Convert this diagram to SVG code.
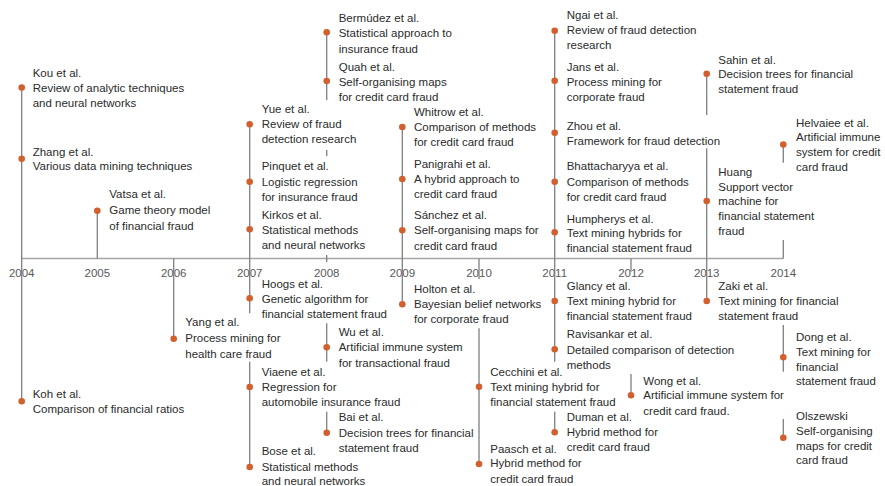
<svg xmlns="http://www.w3.org/2000/svg" width="885" height="486" viewBox="0 0 885 486">
<style>
.t{font-family:"Liberation Sans",Arial,sans-serif;font-size:11.5px;fill:#2b2b2b}
.yr{font-family:"Liberation Sans",Arial,sans-serif;font-size:11.5px;fill:#595959;text-anchor:middle}
.s{stroke:#7f7f7f;stroke-width:1.3;fill:none}
.ax{stroke:#a6a6a6;stroke-width:1.3;fill:none}
.d{fill:#d25f2e}
</style>
<rect width="885" height="486" fill="#ffffff"/>
<g id="axis">
<line class="ax" x1="21.7" y1="258.5" x2="783.3" y2="258.5"/>
<text class="yr" x="21.7" y="277">2004</text>
<text class="yr" x="97.3" y="277">2005</text>
<text class="yr" x="173.7" y="277">2006</text>
<text class="yr" x="249.7" y="277">2007</text>
<text class="yr" x="326.7" y="277">2008</text>
<text class="yr" x="402.3" y="277">2009</text>
<text class="yr" x="479" y="277">2010</text>
<text class="yr" x="554.7" y="277">2011</text>
<text class="yr" x="631" y="277">2012</text>
<text class="yr" x="706.7" y="277">2013</text>
<text class="yr" x="783.3" y="277">2014</text>
</g>
<g id="connectors">
<line class="s" x1="21.7" y1="87.5" x2="21.7" y2="401.3"/>
<line class="s" x1="97.3" y1="210.7" x2="97.3" y2="258.5"/>
<line class="s" x1="173.7" y1="258.5" x2="173.7" y2="338.7"/>
<line class="s" x1="249.7" y1="124.3" x2="249.7" y2="313.3"/>
<line class="s" x1="249.7" y1="361.7" x2="249.7" y2="467"/>
<line class="s" x1="326.7" y1="32.3" x2="326.7" y2="100"/>
<line class="s" x1="326.7" y1="150" x2="326.7" y2="156"/>
<line class="s" x1="326.7" y1="255" x2="326.7" y2="262"/>
<line class="s" x1="326.7" y1="323.3" x2="326.7" y2="361.7"/>
<line class="s" x1="326.7" y1="411.7" x2="326.7" y2="432.7"/>
<line class="s" x1="402.3" y1="127" x2="402.3" y2="304.3"/>
<line class="s" x1="479" y1="258.5" x2="479" y2="279"/>
<line class="s" x1="479" y1="328.3" x2="479" y2="464"/>
<line class="s" x1="554.7" y1="30.7" x2="554.7" y2="361.7"/>
<line class="s" x1="554.7" y1="411.7" x2="554.7" y2="432.3"/>
<line class="s" x1="631" y1="258.5" x2="631" y2="271.7"/>
<line class="s" x1="631" y1="374" x2="631" y2="395.3"/>
<line class="s" x1="706.7" y1="73.7" x2="706.7" y2="115"/>
<line class="s" x1="706.7" y1="148.3" x2="706.7" y2="301"/>
<line class="s" x1="783.3" y1="144.5" x2="783.3" y2="162.7"/>
<line class="s" x1="783.3" y1="240" x2="783.3" y2="258.5"/>
<line class="s" x1="783.3" y1="325" x2="783.3" y2="371.7"/>
<line class="s" x1="783.3" y1="419" x2="783.3" y2="437.7"/>
</g>
<g id="kou"><circle class="d" cx="21.7" cy="87.5" r="3.3"/><text class="t"><tspan x="32.7" y="76.5">Kou et al.</tspan><tspan x="32.7" y="92">Review of analytic techniques</tspan><tspan x="32.7" y="107">and neural networks</tspan></text></g>
<g id="zhang"><circle class="d" cx="21.7" cy="158.7" r="3.3"/><text class="t"><tspan x="32.7" y="155.7">Zhang et al.</tspan><tspan x="32.7" y="170.3">Various data mining techniques</tspan></text></g>
<g id="vatsa"><circle class="d" cx="97.3" cy="210.7" r="3.3"/><text class="t"><tspan x="109.3" y="198.3">Vatsa et al.</tspan><tspan x="109.3" y="214.3">Game theory model</tspan><tspan x="109.3" y="229.7">of financial fraud</tspan></text></g>
<g id="koh"><circle class="d" cx="21.7" cy="401.3" r="3.3"/><text class="t"><tspan x="32.7" y="398">Koh et al.</tspan><tspan x="32.7" y="413.3">Comparison of financial ratios</tspan></text></g>
<g id="yang"><circle class="d" cx="173.7" cy="338.7" r="3.3"/><text class="t"><tspan x="185.3" y="326.3">Yang et al.</tspan><tspan x="185.3" y="342.3">Process mining for</tspan><tspan x="185.3" y="357.7">health care fraud</tspan></text></g>
<g id="yue"><circle class="d" cx="249.7" cy="124.3" r="3.3"/><text class="t"><tspan x="261.7" y="113">Yue et al.</tspan><tspan x="261.7" y="128.3">Review of fraud</tspan><tspan x="261.7" y="143.3">detection research</tspan></text></g>
<g id="pinquet"><circle class="d" cx="249.7" cy="181.7" r="3.3"/><text class="t"><tspan x="261.7" y="170">Pinquet et al.</tspan><tspan x="261.7" y="185.7">Logistic regression</tspan><tspan x="261.7" y="200.7">for insurance fraud</tspan></text></g>
<g id="kirkos"><circle class="d" cx="249.7" cy="229.3" r="3.3"/><text class="t"><tspan x="261.7" y="219">Kirkos et al.</tspan><tspan x="261.7" y="234">Statistical methods</tspan><tspan x="261.7" y="249">and neural networks</tspan></text></g>
<g id="hoogs"><circle class="d" cx="249.7" cy="298.3" r="3.3"/><text class="t"><tspan x="261.7" y="287.7">Hoogs et al.</tspan><tspan x="261.7" y="303">Genetic algorithm for</tspan><tspan x="261.7" y="317.7">financial statement fraud</tspan></text></g>
<g id="viaene"><circle class="d" cx="249.7" cy="387" r="3.3"/><text class="t"><tspan x="261.7" y="376.3">Viaene et al.</tspan><tspan x="261.7" y="391">Regression for</tspan><tspan x="261.7" y="406.3">automobile insurance fraud</tspan></text></g>
<g id="bose"><circle class="d" cx="249.7" cy="467" r="3.3"/><text class="t"><tspan x="261.7" y="455.3">Bose et al.</tspan><tspan x="261.7" y="470.7">Statistical methods</tspan><tspan x="261.7" y="485">and neural networks</tspan></text></g>
<g id="bermudez"><circle class="d" cx="326.7" cy="32.3" r="3.3"/><text class="t"><tspan x="338.7" y="22">Bermúdez et al.</tspan><tspan x="338.7" y="37.3">Statistical approach to</tspan><tspan x="338.7" y="52.7">insurance fraud</tspan></text></g>
<g id="quah"><circle class="d" cx="326.7" cy="81" r="3.3"/><text class="t"><tspan x="338.7" y="71.3">Quah et al.</tspan><tspan x="338.7" y="85.7">Self-organising maps</tspan><tspan x="338.7" y="101">for credit card fraud</tspan></text></g>
<g id="wu"><circle class="d" cx="326.7" cy="347.3" r="3.3"/><text class="t"><tspan x="338.7" y="335.7">Wu et al.</tspan><tspan x="338.7" y="351.3">Artificial immune system</tspan><tspan x="338.7" y="366.7">for transactional fraud</tspan></text></g>
<g id="bai"><circle class="d" cx="326.7" cy="432.7" r="3.3"/><text class="t"><tspan x="338.7" y="420.7">Bai et al.</tspan><tspan x="338.7" y="436.7">Decision trees for financial</tspan><tspan x="338.7" y="452">statement fraud</tspan></text></g>
<g id="whitrow"><circle class="d" cx="402.3" cy="127" r="3.3"/><text class="t"><tspan x="414" y="116">Whitrow et al.</tspan><tspan x="414" y="131">Comparison of methods</tspan><tspan x="414" y="146.3">for credit card fraud</tspan></text></g>
<g id="panigrahi"><circle class="d" cx="402.3" cy="179" r="3.3"/><text class="t"><tspan x="414" y="167.7">Panigrahi et al.</tspan><tspan x="414" y="183">A hybrid approach to</tspan><tspan x="414" y="198">credit card fraud</tspan></text></g>
<g id="sanchez"><circle class="d" cx="402.3" cy="230.3" r="3.3"/><text class="t"><tspan x="414" y="219.3">Sánchez et al.</tspan><tspan x="414" y="234.3">Self-organising maps for</tspan><tspan x="414" y="249.7">credit card fraud</tspan></text></g>
<g id="holton"><circle class="d" cx="402.3" cy="304.3" r="3.3"/><text class="t"><tspan x="414" y="293.3">Holton et al.</tspan><tspan x="414" y="308">Bayesian belief networks</tspan><tspan x="414" y="323.3">for corporate fraud</tspan></text></g>
<g id="cecchini"><circle class="d" cx="479" cy="386.7" r="3.3"/><text class="t"><tspan x="490.3" y="375.7">Cecchini et al.</tspan><tspan x="490.3" y="390.7">Text mining hybrid for</tspan><tspan x="490.3" y="406.3">financial statement fraud</tspan></text></g>
<g id="paasch"><circle class="d" cx="479" cy="464" r="3.3"/><text class="t"><tspan x="490.3" y="452.7">Paasch et al.</tspan><tspan x="490.3" y="467.3">Hybrid method for</tspan><tspan x="490.3" y="482.7">credit card fraud</tspan></text></g>
<g id="ngai"><circle class="d" cx="554.7" cy="30.7" r="3.3"/><text class="t"><tspan x="566.7" y="19">Ngai et al.</tspan><tspan x="566.7" y="34.3">Review of fraud detection</tspan><tspan x="566.7" y="49.3">research</tspan></text></g>
<g id="jans"><circle class="d" cx="554.7" cy="80.7" r="3.3"/><text class="t"><tspan x="566.7" y="70.7">Jans et al.</tspan><tspan x="566.7" y="85.7">Process mining for</tspan><tspan x="566.7" y="100.7">corporate fraud</tspan></text></g>
<g id="zhou"><circle class="d" cx="554.7" cy="132.7" r="3.3"/><text class="t"><tspan x="566.7" y="129.5">Zhou et al.</tspan><tspan x="566.7" y="144.5">Framework for fraud detection</tspan></text></g>
<g id="bhattacharyya"><circle class="d" cx="554.7" cy="181.7" r="3.3"/><text class="t"><tspan x="566.7" y="169.7">Bhattacharyya et al.</tspan><tspan x="566.7" y="185.7">Comparison of methods</tspan><tspan x="566.7" y="200.7">for credit card fraud</tspan></text></g>
<g id="humpherys"><circle class="d" cx="554.7" cy="232.3" r="3.3"/><text class="t"><tspan x="566.7" y="223">Humpherys et al.</tspan><tspan x="566.7" y="237.3">Text mining hybrids for</tspan><tspan x="566.7" y="252.3">financial statement fraud</tspan></text></g>
<g id="glancy"><circle class="d" cx="554.7" cy="301" r="3.3"/><text class="t"><tspan x="566.7" y="290">Glancy et al.</tspan><tspan x="566.7" y="305">Text mining hybrid for</tspan><tspan x="566.7" y="320">financial statement fraud</tspan></text></g>
<g id="ravisankar"><circle class="d" cx="554.7" cy="349.3" r="3.3"/><text class="t"><tspan x="566.7" y="338.3">Ravisankar et al.</tspan><tspan x="566.7" y="353.7">Detailed comparison of detection</tspan><tspan x="566.7" y="368.7">methods</tspan></text></g>
<g id="duman"><circle class="d" cx="554.7" cy="432.3" r="3.3"/><text class="t"><tspan x="566.7" y="421.3">Duman et al.</tspan><tspan x="566.7" y="436.3">Hybrid method for</tspan><tspan x="566.7" y="451.3">credit card fraud</tspan></text></g>
<g id="wong"><circle class="d" cx="631" cy="395.3" r="3.3"/><text class="t"><tspan x="643.3" y="384.7">Wong et al.</tspan><tspan x="643.3" y="399.3">Artificial immune system for</tspan><tspan x="643.3" y="414.7">credit card fraud.</tspan></text></g>
<g id="sahin"><circle class="d" cx="706.7" cy="73.7" r="3.3"/><text class="t"><tspan x="718.3" y="64">Sahin et al.</tspan><tspan x="718.3" y="78">Decision trees for financial</tspan><tspan x="718.3" y="93.3">statement fraud</tspan></text></g>
<g id="huang"><circle class="d" cx="706.7" cy="201" r="3.3"/><text class="t"><tspan x="718.3" y="176.3">Huang</tspan><tspan x="718.3" y="190.7">Support vector</tspan><tspan x="718.3" y="205">machine for</tspan><tspan x="718.3" y="219.7">financial statement</tspan><tspan x="718.3" y="234.7">fraud</tspan></text></g>
<g id="zaki"><circle class="d" cx="706.7" cy="301" r="3.3"/><text class="t"><tspan x="718.3" y="290">Zaki et al.</tspan><tspan x="718.3" y="305">Text mining for financial</tspan><tspan x="718.3" y="320">statement fraud</tspan></text></g>
<g id="helvaiee"><circle class="d" cx="783.3" cy="144.5" r="3.3"/><text class="t"><tspan x="796" y="126.7">Helvaiee et al.</tspan><tspan x="796" y="141.3">Artificial immune</tspan><tspan x="796" y="156.3">system for credit</tspan><tspan x="796" y="170.7">card fraud</tspan></text></g>
<g id="dong"><circle class="d" cx="783.3" cy="357.3" r="3.3"/><text class="t"><tspan x="796" y="340.7">Dong et al.</tspan><tspan x="796" y="355.7">Text mining for</tspan><tspan x="796" y="370.7">financial</tspan><tspan x="796" y="384.7">statement fraud</tspan></text></g>
<g id="olszewski"><circle class="d" cx="783.3" cy="437.7" r="3.3"/><text class="t"><tspan x="796" y="419.7">Olszewski</tspan><tspan x="796" y="435">Self-organising</tspan><tspan x="796" y="450">maps for credit</tspan><tspan x="796" y="464.3">card fraud</tspan></text></g>
</svg>
